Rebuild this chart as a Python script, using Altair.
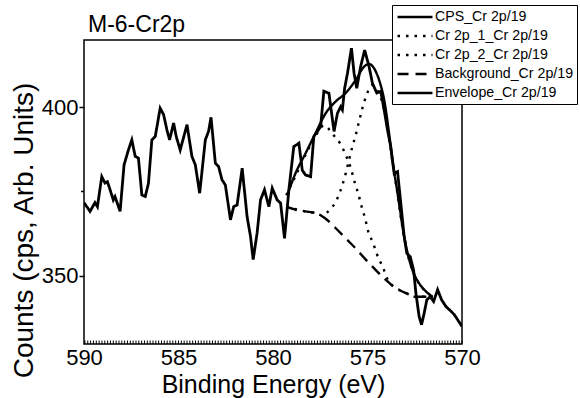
import altair as alt
import pandas as pd

FONT = "Liberation Sans"

# ---- data ----
cps_x = [590.0, 589.68, 589.42, 589.29, 589.06, 588.89, 588.76, 588.62, 588.45, 588.36,
         588.09, 587.88, 587.65, 587.47, 587.29, 587.12, 586.94, 586.76, 586.59, 586.41,
         586.23, 585.97, 585.79, 585.61, 585.47, 585.26, 585.12, 584.91, 584.55, 584.29,
         584.11, 583.88, 583.58, 583.41, 583.28, 583.05, 582.88, 582.7, 582.52, 582.25,
         582.08, 581.9, 581.63, 581.37, 581.19, 581.05, 580.84, 580.66, 580.45, 580.22,
         580.04, 579.78, 579.6, 579.39, 579.16, 578.9, 578.63, 578.45, 578.28, 578.01,
         577.84, 577.48, 577.31, 577.04, 576.77, 576.59, 576.42, 576.33, 576.21, 576.06,
         575.85, 575.71, 575.57, 575.36, 575.15, 574.92, 574.74, 574.51, 574.3, 574.12,
         573.94, 573.77, 573.59, 573.41, 573.24, 573.06, 572.92, 572.74, 572.56, 572.44,
         572.27, 572.14, 572.0, 571.86, 571.68, 571.5, 571.29, 571.08, 570.85, 570.58,
         570.41, 570.23, 570.0]
cps_y = [371.7, 369.1, 371.7, 370.5, 379.4, 377.5, 377.9, 375.5, 372.5, 373.5,
         369.1, 382.9, 387.3, 390.3, 385.4, 384.9, 374.0, 373.5, 377.4, 390.3,
         391.3, 399.7, 397.8, 393.2, 390.3, 395.3, 391.3, 387.3, 394.8, 385.4,
         382.9, 374.5, 390.3, 392.8, 397.0, 383.4, 382.4, 378.5, 376.9, 366.6,
         370.5, 371.0, 381.9, 367.5, 361.7, 354.8, 362.7, 372.5, 375.5, 370.5,
         376.0, 372.5, 371.6, 361.1, 375.5, 388.3, 389.3, 381.3, 379.9, 379.4,
         391.3, 394.2, 404.7, 404.1, 392.8, 398.2, 400.1, 399.2, 405.6, 410.0,
         417.5, 410.0, 405.6, 412.1, 416.9, 412.1, 407.1, 404.2, 404.7, 399.2,
         393.2, 388.3, 380.4, 380.9, 371.6, 361.7, 356.7, 355.7, 351.7, 344.9,
         338.0, 335.5, 339.0, 342.9, 343.8, 342.4, 345.9, 342.9, 340.9, 339.5,
         338.5, 337.0, 335.0]

p1_x = [579.3, 578.81, 578.28, 577.75, 577.3, 576.9, 576.68, 576.41, 576.15, 575.9,
        575.66, 575.49, 575.31, 575.13, 574.96, 574.7, 574.52, 574.17, 573.9, 573.5,
        572.97, 572.5, 571.55]
p1_y = [373.9, 379.6, 385.8, 391.5, 394.6, 392.5, 390.9, 388.9, 385.8, 382.2,
        377.4, 374.4, 370.5, 367.1, 363.1, 359.7, 356.7, 352.3, 348.6, 346.5,
        345.0, 343.8, 343.8]

p2_x = [579.3, 578.28, 577.75, 577.4, 577.12, 576.59, 576.33, 576.15, 575.98, 575.8,
        575.62, 575.45, 575.27, 575.09, 574.9, 574.75, 574.55, 574.35, 574.12, 573.86,
        573.68, 573.41, 573.15, 572.88, 572.62, 572.27, 571.91, 571.55]
p2_y = [370.5, 369.1, 368.6, 367.9, 368.9, 373.0, 376.9, 380.4, 384.3, 388.3,
        391.8, 395.7, 399.7, 403.0, 405.5, 406.5, 405.5, 403.5, 399.5, 391.2,
        383.8, 374.2, 364.4, 356.6, 351.6, 347.7, 345.3, 343.8]

bg_x = [579.3, 578.81, 578.28, 577.75, 577.21, 576.68, 576.15, 575.62, 575.09, 574.56,
        574.03, 573.5, 572.97, 572.5, 571.55]
bg_y = [370.5, 369.6, 369.1, 368.6, 366.9, 364.1, 361.1, 358.1, 354.8, 351.7,
        348.8, 346.3, 344.9, 343.8, 343.8]

env_x = [579.25, 578.81, 578.28, 577.75, 577.21, 576.68, 576.15, 575.62, 575.18, 574.92,
         574.65, 574.39, 574.12, 573.86, 573.68, 573.41, 573.15, 572.88, 572.62, 572.27,
         571.91, 571.55]
env_y = [373.9, 380.4, 386.3, 392.3, 398.2, 401.7, 404.2, 408.1, 412.0, 412.8,
         411.5, 408.1, 402.2, 392.3, 384.3, 374.5, 364.6, 356.7, 351.7, 347.8,
         345.4, 343.8]

series_names = ["CPS_Cr 2p/19", "Cr 2p_1_Cr 2p/19", "Cr 2p_2_Cr 2p/19",
                "Background_Cr 2p/19", "Envelope_Cr 2p/19"]
x_ticks = [590, 585, 580, 575, 570]
y_ticks = [350, 400]
y_minor = [375]
x_minor = [round(570 + 0.15 * i, 2) for i in range(134)]
chart_title = "M-6-Cr2p"

# ---- tables ----
cps_df = pd.DataFrame({"x": cps_x, "y": cps_y, "series": series_names[0]})
fit_df = pd.concat([
    pd.DataFrame({"x": p1_x, "y": p1_y, "series": series_names[1]}),
    pd.DataFrame({"x": p2_x, "y": p2_y, "series": series_names[2]}),
    pd.DataFrame({"x": bg_x, "y": bg_y, "series": series_names[3]}),
    pd.DataFrame({"x": env_x, "y": env_y, "series": series_names[4]}),
], ignore_index=True)
xminor_df = pd.DataFrame({"x": x_minor})
yminor_df = pd.DataFrame({"y": y_minor})
title_df = pd.DataFrame({"t": [chart_title]})

xs = alt.Scale(domain=[570, 590], reverse=True, nice=False, zero=False)
ys = alt.Scale(domain=[329.8, 419.9], nice=False, zero=False)

x_axis = alt.Axis(values=x_ticks, title="Binding Energy (eV)", ticks=False, domain=False,
                  grid=False, labelFontSize=22, labelFont=FONT, labelColor="black",
                  labelPadding=3, labelFlush=False, format="d",
                  titleFontSize=25, titleFont=FONT, titleFontWeight="normal",
                  titleColor="black", titleY=48, titleBaseline="alphabetic")
y_axis = alt.Axis(values=y_ticks, title="Counts (cps, Arb. Units)", tickSize=5,
                  tickColor="black", tickWidth=1.5, domain=False, grid=False,
                  labelFontSize=22, labelFont=FONT, labelColor="black", labelPadding=1,
                  format="d", titleFontSize=28, titleFont=FONT, titleFontWeight="normal",
                  titleColor="black", titleX=-52, titleY=190, titleBaseline="alphabetic")

X = alt.X("x:Q", scale=xs, axis=x_axis)
Y = alt.Y("y:Q", scale=ys, axis=y_axis)

# legend symbol: a long horizontal stroke drawn beyond the unit box so the
# row height stays small while the sample line is ~35 px long
dash = alt.StrokeDash(
    "series:N",
    scale=alt.Scale(domain=series_names,
                    range=[[1, 0], [2.5, 6], [2.5, 6], [11, 7], [1, 0]]),
    legend=alt.Legend(title=None, orient="none", legendX=308, legendY=-35,
                      strokeColor="black", fillColor="white", padding=3,
                      labelFont=FONT, labelFontSize=14.2, labelColor="black",
                      labelOffset=11, labelLimit=300,
                      symbolType="M-2.33,0H2.33", symbolSize=225,
                      symbolOffset=11, symbolStrokeWidth=2.4,
                      symbolStrokeColor="black", symbolFillColor="transparent",
                      rowPadding=2),
)

cps = alt.Chart(cps_df).mark_line(color="black", strokeWidth=2.8, clip=True).encode(
    x=X, y=Y, strokeDash=dash)
fits = alt.Chart(fit_df).mark_line(color="black", strokeWidth=2.4, clip=True,
                                   interpolate="monotone").encode(
    x=X, y=Y, strokeDash=dash)
xminor = alt.Chart(xminor_df).mark_rule(color="black", strokeWidth=1).encode(
    x=X, y=alt.value(300.5), y2=alt.value(304))
yminor = alt.Chart(yminor_df).mark_rule(color="black", strokeWidth=1.5).encode(
    y=Y, x=alt.value(-3), x2=alt.value(0))
title = alt.Chart(title_df).mark_text(align="left", baseline="alphabetic", fontSize=23,
                                      font=FONT, color="black").encode(
    text="t:N", x=alt.value(4), y=alt.value(-8.5))

chart = alt.layer(cps, fits, xminor, yminor, title).properties(
    width=378, height=304,
    autosize=alt.AutoSizeParams(type="none"),
    padding={"left": 84, "top": 40, "right": 118, "bottom": 54},
    background="white",
).configure_view(stroke="black", strokeWidth=1.5)

chart.save("out.html", embed_options={"renderer": "svg", "actions": False})
